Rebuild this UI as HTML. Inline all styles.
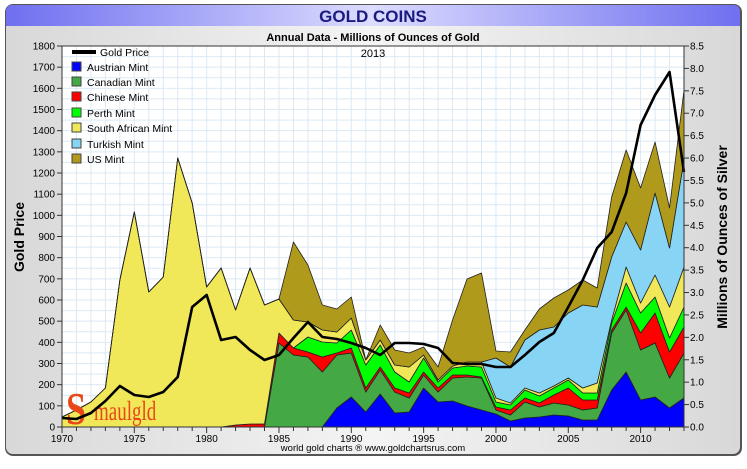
<!DOCTYPE html>
<html><head><meta charset="utf-8"><style>
html,body{margin:0;padding:0;background:#fff;}
body{width:747px;height:464px;overflow:hidden;font-family:"Liberation Sans",sans-serif;}
</style></head><body>
<svg id="s" width="747" height="464" xmlns="http://www.w3.org/2000/svg" font-family="Liberation Sans, sans-serif">
<defs>
<linearGradient id="tb" x1="0" x2="1" y1="0" y2="0">
<stop offset="0" stop-color="#6f6ff0"/><stop offset="0.5" stop-color="#dcdcff"/><stop offset="1" stop-color="#6f6ff0"/>
</linearGradient>
<linearGradient id="pg" x1="0" x2="1" y1="0" y2="0">
<stop offset="0" stop-color="#d8d8d8"/><stop offset="0.5" stop-color="#f4f4f4"/><stop offset="1" stop-color="#d8d8d8"/>
</linearGradient>
</defs>
<rect x="5" y="4" width="737" height="452" rx="8" fill="#555"/>
<rect x="6" y="5" width="734" height="449" rx="7" fill="url(#pg)"/>
<path d="M6,26 L6,12 Q6,5 13,5 L733,5 Q740,5 740,12 L740,26 Z" fill="url(#tb)"/>
<text x="373" y="22" text-anchor="middle" font-size="17" font-weight="bold" fill="#1a1a80">GOLD COINS</text>
<text x="373" y="41" text-anchor="middle" font-size="11" font-weight="bold" fill="#000">Annual Data - Millions of Ounces of Gold</text>
<rect x="62" y="46" width="622" height="381" fill="#fff"/>
<g id="grid" stroke="#dbe9f5" stroke-width="1"></g>
<g id="areas" stroke="#222" stroke-width="0.8" stroke-linejoin="round"></g>
<text x="373" y="57" text-anchor="middle" font-size="11" fill="#000">2013</text>
<text transform="translate(66,424) scale(1,1.25)" font-size="36" font-weight="bold" fill="#e84818" font-family="Liberation Serif, serif">S</text>
<text transform="translate(94,420) scale(1,1.45)" font-size="19" fill="#e84818" font-family="Liberation Serif, serif">maulgld</text>
<polyline id="price" fill="none" stroke="#000" stroke-width="2.6" stroke-linejoin="round"/>
<rect x="62" y="46" width="622" height="381" fill="none" stroke="#333" stroke-width="1"/>
<g id="ax" font-size="10" fill="#000"></g>
<text transform="translate(24,237) rotate(-90)" text-anchor="middle" font-size="14" font-weight="bold">Gold Price</text>
<text transform="translate(727,237) rotate(-90)" text-anchor="middle" font-size="14" font-weight="bold">Millions of Ounces of Silver</text>
<text x="373" y="451" text-anchor="middle" font-size="9.5">world gold charts ® www.goldchartsrus.com</text>
<g font-size="10.5">
<rect x="72" y="50" width="24" height="4" fill="#000"/><text x="100" y="56">Gold Price</text>
<rect x="72" y="62" width="9" height="9" fill="#0000ff" stroke="#444"/><text x="87" y="71">Austrian Mint</text>
<rect x="72" y="77" width="9" height="9" fill="#44a844" stroke="#444"/><text x="87" y="86">Canadian Mint</text>
<rect x="72" y="92" width="9" height="9" fill="#ff0000" stroke="#444"/><text x="87" y="101">Chinese Mint</text>
<rect x="72" y="108" width="9" height="9" fill="#00ff00" stroke="#444"/><text x="87" y="117">Perth Mint</text>
<rect x="72" y="123" width="9" height="9" fill="#f0e858" stroke="#444"/><text x="87" y="132">South African Mint</text>
<rect x="72" y="139" width="9" height="9" fill="#88d4f4" stroke="#444"/><text x="87" y="148">Turkish Mint</text>
<rect x="72" y="154" width="9" height="9" fill="#b09a1c" stroke="#444"/><text x="87" y="163">US Mint</text>
</g>
</svg>
<script>
var NS="http://www.w3.org/2000/svg";
function el(p,t,a){var e=document.createElementNS(NS,t);for(var k in a)e.setAttribute(k,a[k]);p.appendChild(e);return e;}
var X0=62,X1=684,Y0=427,Y1=46;
function X(i){return X0+i*(X1-X0)/43;}
var g=document.getElementById('grid');
for(var i=1;i<43;i++)el(g,'line',{x1:X(i),x2:X(i),y1:Y1,y2:Y0});
for(var v=50;v<1800;v+=50){var y=Y0-v*(Y0-Y1)/1800;el(g,'line',{x1:X0,x2:X1,y1:y,y2:y});}
function rep(v,n){var a=[];for(var i=0;i<n;i++)a.push(v);return a;}
var blue=rep(427,19).concat([408,397,412,394,413,412,388,402,401,406,410,414,421,418,417,415,416,420,420,390,372,400,397,408,398]);
var green=rep(427,15).concat([343,355,357,372,355,353,392,370,392,398,375,392,378,377,378,410,415,402,407,403,405,410,408,333,310,350,343,378,353]);
var red=rep(427,12).concat([425,424,424,333,348,352,357,353,348,388,367,388,393,372,388,375,375,377,407,410,398,403,395,388,400,400,330,307,333,313,352,327]);
var lime=red.slice(0,17).concat([337,342,343,330,365,345,372,382,358,382,368,366,367,402,405,390,396,388,380,393,393,323,283,313,297,338,307]);
var yel=[417,410,402,388,280,212,292,277,158,203,287,268,310,268,305,299,320,322,330,332,318,360,340,365,367,355,380,366,362,362,398,403,388,393,386,378,388,383,320,267,303,275,307,267];
var lb=yel.slice(0,30).concat([358,367,340,330,327,313,305,307,257,222,250,193,248,160]);
var us=yel.slice(0,16).concat([242,265,305,309,297,360,325,350,353,347,367,320,279,273,351,352,330,309,298,290,280,288,197,150,188,142,208,90]);
var layers=[[blue,'#0000ff'],[green,'#44a844'],[red,'#ff0000'],[lime,'#00ff00'],[yel,'#f0e858'],[lb,'#88d4f4'],[us,'#b09a1c']];
var A=document.getElementById('areas');var prev=rep(427,44);
layers.forEach(function(L){var t=L[0];var pts=[];
for(var i=0;i<44;i++){if(t[i]>prev[i])t[i]=prev[i];pts.push(X(i)+','+t[i]);}
for(var i=43;i>=0;i--)pts.push(X(i)+','+prev[i]);
el(A,'polygon',{points:pts.join(' '),fill:L[1]});prev=t;});
var pr=[418,419,413,401,386,395,397,392,377,307,295,340,337,350,360,355,338,322,337,339,343,348,355,343,343,344,348,363,364,364,367,367,355,342,333,307,280,248,232,193,125,95,72,172];
var p=[];for(var i=0;i<44;i++)p.push(X(i)+','+pr[i]);
document.getElementById('price').setAttribute('points',p.join(' '));
var ax=document.getElementById('ax');
for(var v=0;v<=1800;v+=100){var y=Y0-v*(Y0-Y1)/1800;el(ax,'line',{x1:57,x2:62,y1:y,y2:y,stroke:'#333'});var t=el(ax,'text',{x:55,y:y+3.5,'text-anchor':'end'});t.textContent=v;}
for(var k=0;k<=17;k++){var v=k*0.5;var y=Y0-v*(Y0-Y1)/8.5;el(ax,'line',{x1:684,x2:689,y1:y,y2:y,stroke:'#333'});var t=el(ax,'text',{x:690,y:y+3.5});t.textContent=v.toFixed(1);}
for(var i=0;i<44;i++){el(ax,'line',{x1:X(i),x2:X(i),y1:427,y2:(i%5==0?433:431),stroke:'#333'});if(i%5==0){var t=el(ax,'text',{x:X(i),y:442,'text-anchor':'middle'});t.textContent=1970+i;}}
</script>
</body></html>
